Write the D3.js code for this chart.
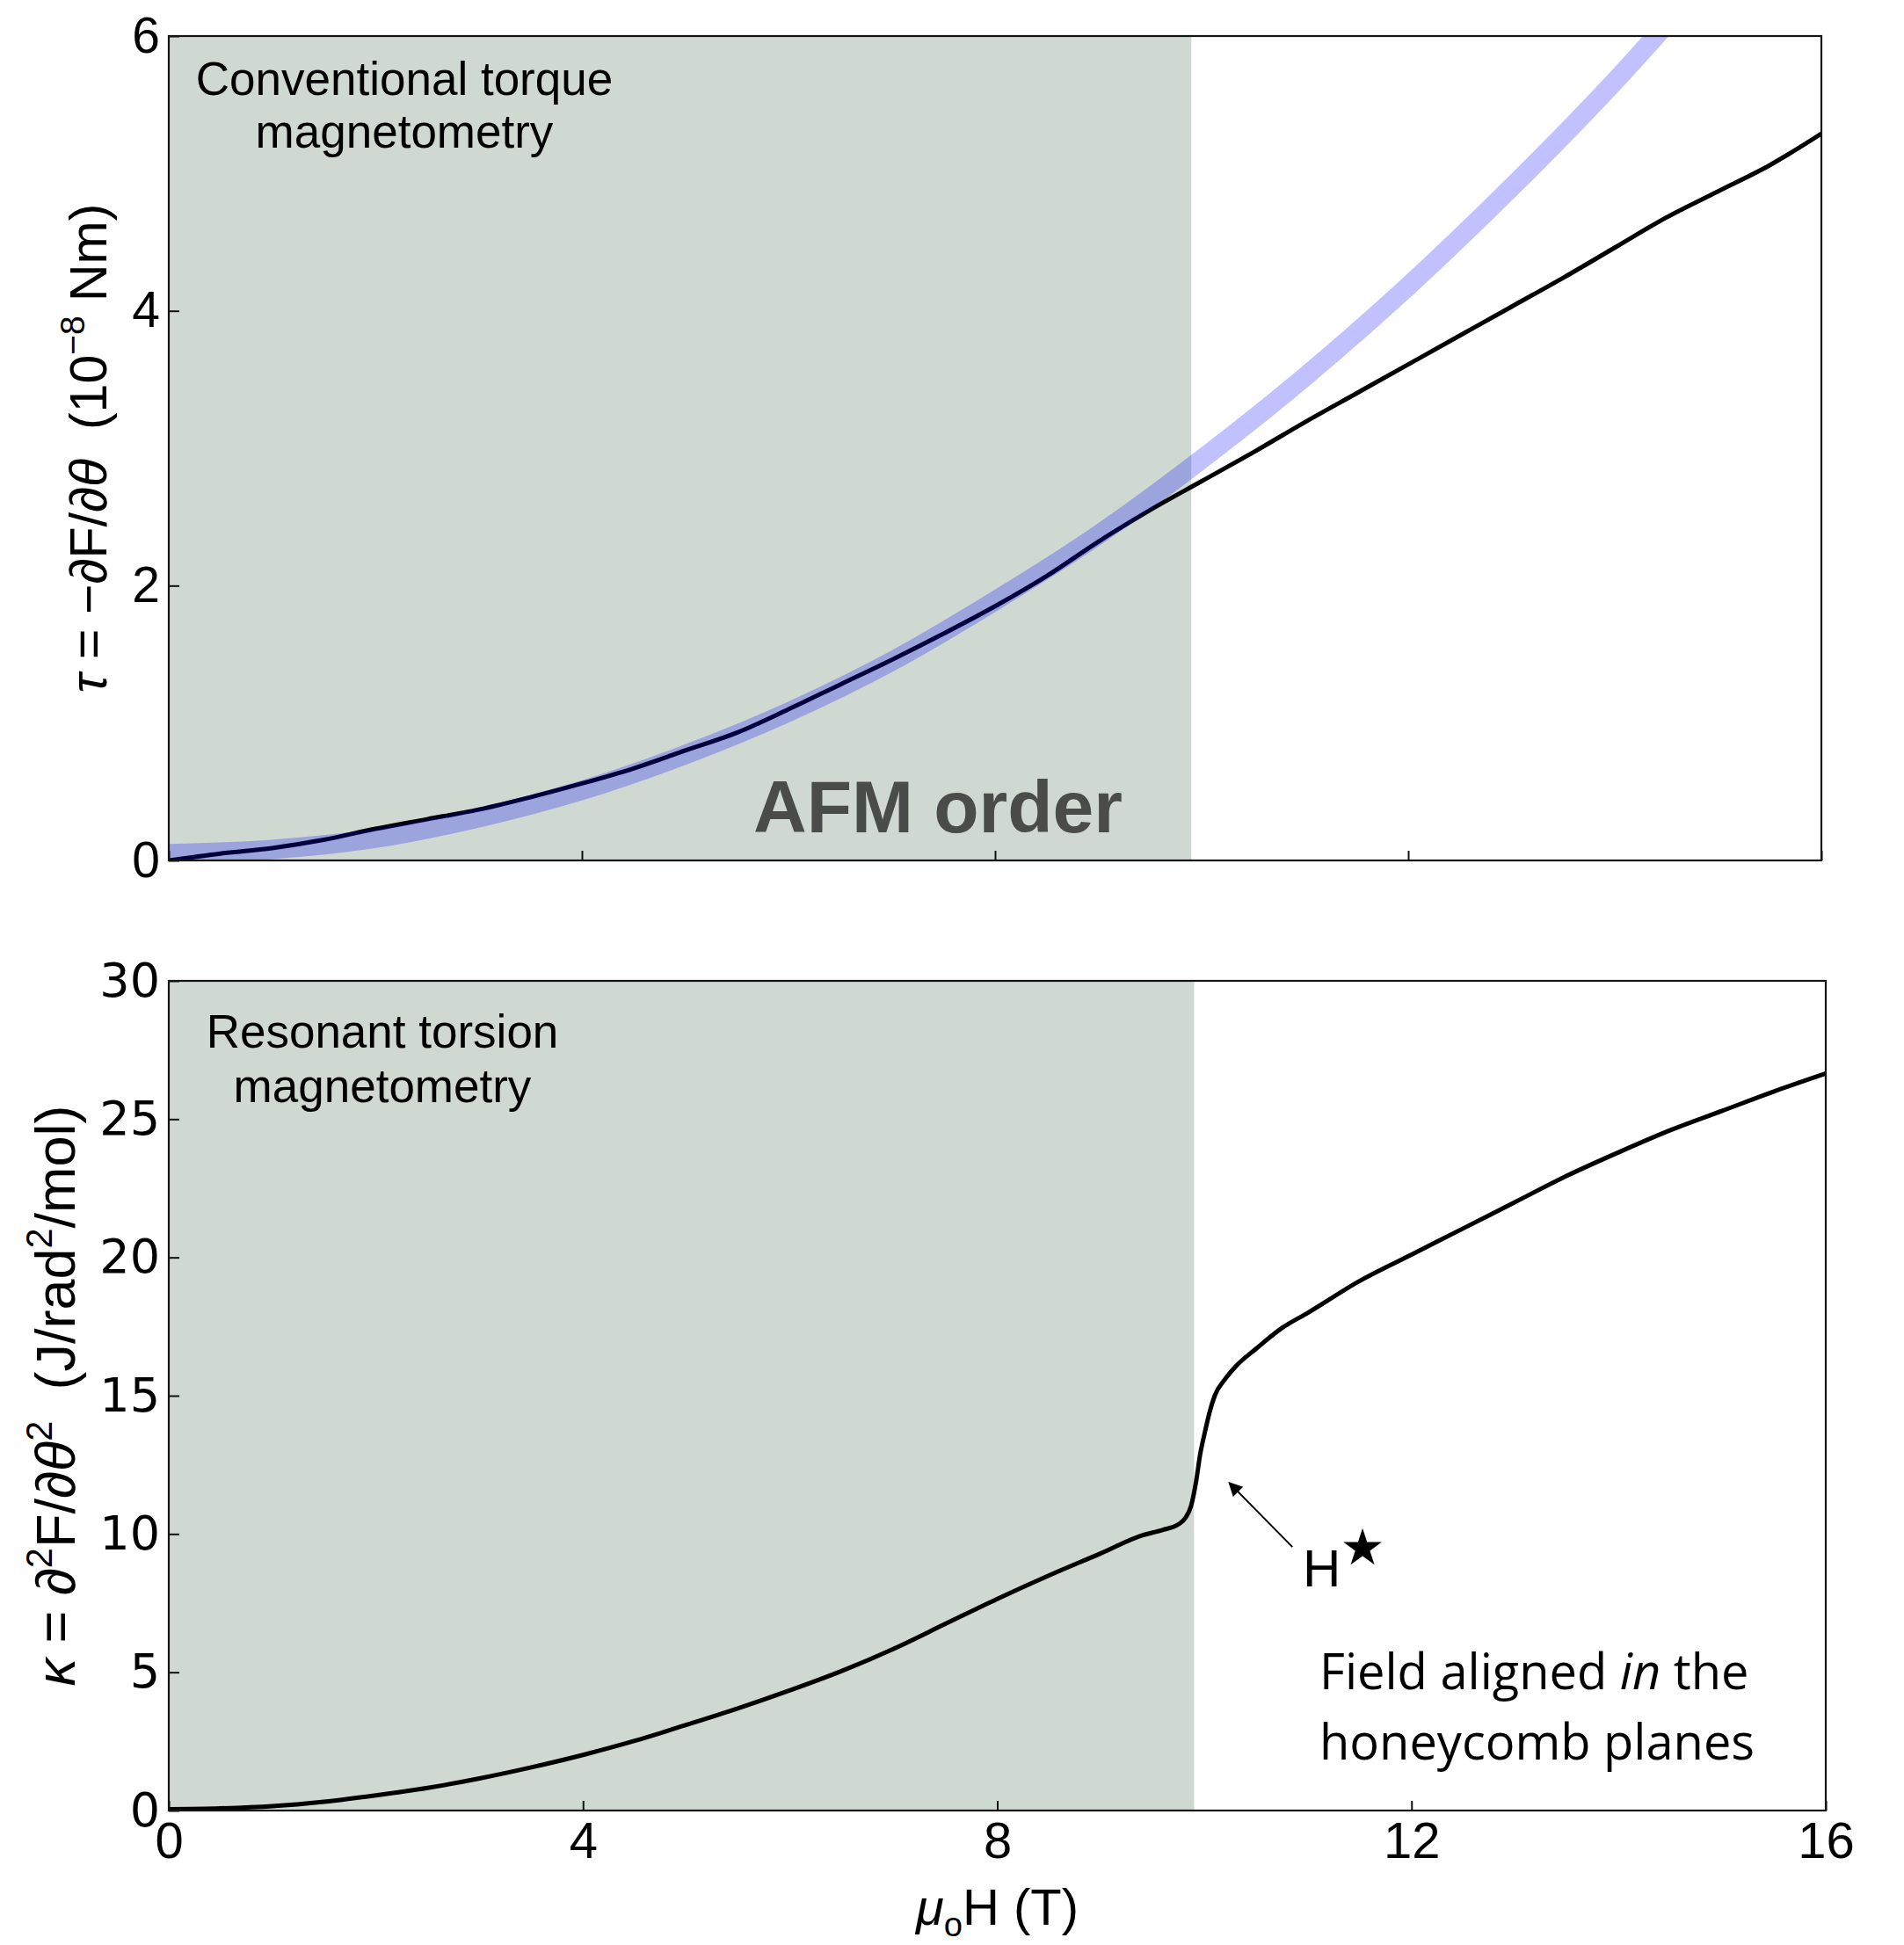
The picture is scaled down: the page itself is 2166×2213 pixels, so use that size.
<!DOCTYPE html>
<html>
<head>
<meta charset="utf-8">
<script src="https://cdn.jsdelivr.net/npm/d3@7"></script>
<style>
  body { margin: 0; background: #fff; }
  text { white-space: pre; }
</style>
</head>
<body>
<svg id="chart" width="2166" height="2213"></svg>
<script>
// ---- data ----
// Torque tau (10^-8 Nm) vs applied field (T)
const fieldTorque = [0, 0.5, 1, 1.5, 2, 2.5, 3, 3.5, 4, 4.5, 5, 5.5, 6, 6.5, 7, 7.5, 8, 8.5, 9, 9.5, 10, 10.5, 11, 11.5, 12, 12.5, 13, 13.5, 14, 14.5, 15, 15.5, 16];
const torque = [0.00, 0.05, 0.09, 0.15, 0.23, 0.30, 0.37, 0.46, 0.56, 0.67, 0.80, 0.93, 1.10, 1.28, 1.46, 1.65, 1.85, 2.07, 2.32, 2.55, 2.76, 2.97, 3.19, 3.40, 3.61, 3.82, 4.03, 4.24, 4.46, 4.68, 4.87, 5.06, 5.29];

// Low-field H^2 trend drawn as a wide translucent band
const fieldFit = [0, 1, 2, 3, 4, 5, 6, 7, 8, 9, 10, 11, 12, 13, 14, 14.6];
const torqueFit = [0.05, 0.08, 0.16, 0.31, 0.51, 0.77, 1.08, 1.45, 1.89, 2.37, 2.92, 3.52, 4.18, 4.90, 5.67, 6.17];

// Magnetotropic coefficient kappa (J/rad^2/mol) vs field (T)
const fieldKappa = [0, 0.5, 1, 1.5, 2, 2.5, 3, 3.5, 4, 4.5, 5, 5.5, 6, 6.5, 7, 7.5, 8, 8.5, 9, 9.4, 9.6, 9.75, 9.82, 9.87, 9.92, 9.96, 10.0, 10.05, 10.1, 10.2, 10.3, 10.5, 10.75, 11, 11.5, 12, 12.5, 13, 13.5, 14, 14.5, 15, 15.5, 16];
const kappa = [0.05, 0.08, 0.16, 0.32, 0.55, 0.82, 1.16, 1.56, 2.01, 2.52, 3.10, 3.70, 4.35, 5.05, 5.85, 6.75, 7.65, 8.50, 9.30, 9.95, 10.15, 10.35, 10.6, 11.0, 11.9, 12.9, 13.6, 14.4, 15.0, 15.6, 16.05, 16.7, 17.45, 18.0, 19.15, 20.1, 21.05, 22.0, 22.95, 23.8, 24.6, 25.3, 26.0, 26.65];

const fieldTicks = [0, 4, 8, 12, 16];
const torqueTicks = [0, 2, 4, 6];
const kappaTicks = [0, 5, 10, 15, 20, 25, 30];
const afmRange = [0, 9.9];     // antiferromagnetic ordered region (T)
const hStar = { tip: [10.24, 11.85], tail: [10.85, 9.53], label: [10.95, 8.1] };

// ---- layout ----
const svg = d3.select("#chart");
const HELV = "'Liberation Sans', Arial, Helvetica, sans-serif";
const SHADE = "#cfd9d2";

const xTop = d3.scaleLinear().domain([0, 16]).range([192, 2072]);
const yTop = d3.scaleLinear().domain([0, 6]).range([979, 41]);
const xBot = d3.scaleLinear().domain([0, 16]).range([192, 2077]);
const yBot = d3.scaleLinear().domain([0, 30]).range([2060, 1116]);

function richText(sel, parts, fs) {
  let shift = 0;
  parts.forEach(p => {
    const ts = sel.append("tspan").text(p.t);
    if (p.it) ts.attr("font-style", "italic");
    let target = 0;
    if (p.sup) { target = -0.42 * fs; ts.attr("font-size", 0.66 * fs); }
    if (p.sub) { target = 0.22 * fs; ts.attr("font-size", 0.66 * fs); }
    if (target - shift !== 0) ts.attr("dy", target - shift);
    shift = target;
  });
}

function panel(x, y, id) {
  const [x0, x1] = x.range();
  const [y0, y1] = y.range();
  const g = svg.append("g");
  g.append("clipPath").attr("id", id).append("rect")
    .attr("x", x0).attr("y", y1).attr("width", x1 - x0).attr("height", y0 - y1);
  // AFM shading
  g.append("rect")
    .attr("x", x(afmRange[0])).attr("width", x(afmRange[1]) - x(afmRange[0]))
    .attr("y", y1).attr("height", y0 - y1)
    .attr("fill", SHADE);
  return g;
}

function frame(g, x, y, yTicks, yFont, yFs, showXLabels) {
  const [x0, x1] = x.range();
  const [y0, y1] = y.range();
  const ax = g.append("g").attr("transform", `translate(${x0},0)`)
    .call(d3.axisLeft(y).tickValues(yTicks).tickFormat(d3.format("d"))
      .tickSizeInner(-12).tickSizeOuter(0).tickPadding(10));
  ax.select(".domain").remove();
  ax.selectAll(".tick line").attr("stroke", "#111").attr("stroke-width", 2);
  ax.selectAll(".tick text").attr("font-family", yFont).attr("font-size", yFs).attr("fill", "#000");

  const bx = g.append("g").attr("transform", `translate(0,${y0})`)
    .call(d3.axisBottom(x).tickValues(fieldTicks).tickSizeInner(-11).tickSizeOuter(0).tickPadding(13)
      .tickFormat(showXLabels ? d3.format("d") : () => ""));
  bx.select(".domain").remove();
  bx.selectAll(".tick line").attr("stroke", "#111").attr("stroke-width", 2);
  bx.selectAll(".tick text").attr("font-family", HELV).attr("font-size", 58).attr("fill", "#000");

  g.append("rect").attr("x", x0).attr("y", y1).attr("width", x1 - x0).attr("height", y0 - y1)
    .attr("fill", "none").attr("stroke", "#151515").attr("stroke-width", 2.2);
}

// ---- top panel: torque ----
const gTop = panel(xTop, yTop, "clipTop");
const lineTop = d3.line().x(d => xTop(d[0])).y(d => yTop(d[1])).curve(d3.curveMonotoneX);

gTop.append("path")
  .datum(d3.zip(fieldTorque, torque))
  .attr("d", lineTop).attr("clip-path", "url(#clipTop)")
  .attr("fill", "none").attr("stroke", "#000").attr("stroke-width", 5).attr("stroke-linejoin", "round");

gTop.append("path")
  .datum(d3.zip(fieldFit, torqueFit))
  .attr("d", lineTop).attr("clip-path", "url(#clipTop)")
  .attr("fill", "none").attr("stroke", "rgba(0,0,255,0.245)").attr("stroke-width", 22);

gTop.append("text").attr("font-family", HELV).attr("font-size", 53).attr("text-anchor", "middle")
  .selectAll("tspan").data(["Conventional torque", "magnetometry"]).join("tspan")
  .attr("x", 460).attr("y", (d, i) => 108 + i * 60).text(d => d);

gTop.append("text").attr("font-family", HELV).attr("font-size", 84).attr("font-weight", "bold")
  .attr("fill", "#4a4c49").attr("x", 857).attr("y", 947).text("AFM order");

frame(gTop, xTop, yTop, torqueTicks, HELV, 57, false);

const tTitle = svg.append("text").attr("font-family", HELV).attr("font-size", 59)
  .attr("text-anchor", "middle").attr("transform", "translate(121,510) rotate(-90)");
richText(tTitle, [
  { t: "τ", it: true }, { t: " = −∂F/∂" }, { t: "θ", it: true },
  { t: "  (10" }, { t: "−8", sup: true }, { t: " Nm)" }
], 59);

// ---- bottom panel: kappa ----
const gBot = panel(xBot, yBot, "clipBot");
const lineBot = d3.line().x(d => xBot(d[0])).y(d => yBot(d[1])).curve(d3.curveMonotoneX);

gBot.append("path")
  .datum(d3.zip(fieldKappa, kappa))
  .attr("d", lineBot).attr("clip-path", "url(#clipBot)")
  .attr("fill", "none").attr("stroke", "#000").attr("stroke-width", 5).attr("stroke-linejoin", "round");

gBot.append("text").attr("font-family", HELV).attr("font-size", 53).attr("text-anchor", "middle")
  .selectAll("tspan").data(["Resonant torsion", "magnetometry"]).join("tspan")
  .attr("x", 435).attr("y", (d, i) => 1192 + i * 62).text(d => d);

const field = gBot.append("text").attr("font-family", "'Open Sans', sans-serif").attr("font-size", 56);
const l1 = field.append("tspan").attr("x", 1501).attr("y", 1922);
l1.append("tspan").text("Field aligned ");
l1.append("tspan").attr("font-style", "italic").text("in");
l1.append("tspan").text(" the");
field.append("tspan").attr("x", 1501).attr("y", 2002).text("honeycomb planes");

// H* annotation
const defs = svg.append("defs");
defs.append("marker").attr("id", "arrowHead").attr("viewBox", "0 0 10 10")
  .attr("refX", 9).attr("refY", 5).attr("markerWidth", 9).attr("markerHeight", 8)
  .attr("markerUnits", "strokeWidth").attr("orient", "auto")
  .append("path").attr("d", "M0,0 L10,5 L0,10 Z").attr("fill", "#000");
gBot.append("line")
  .attr("x1", xBot(hStar.tail[0])).attr("y1", yBot(hStar.tail[1]))
  .attr("x2", xBot(hStar.tip[0])).attr("y2", yBot(hStar.tip[1]))
  .attr("stroke", "#000").attr("stroke-width", 2).attr("marker-end", "url(#arrowHead)");
const hs = gBot.append("text").attr("font-family", HELV).attr("font-size", 60)
  .attr("x", xBot(hStar.label[0])).attr("y", yBot(hStar.label[1]));
hs.append("tspan").text("H");
hs.append("tspan").attr("font-family", "'DejaVu Sans', sans-serif").attr("font-size", 57)
  .attr("dx", -1).attr("dy", -25).text("★");

frame(gBot, xBot, yBot, kappaTicks, "'DejaVu Sans', sans-serif", 54, true);

const kTitle = svg.append("text").attr("font-family", HELV).attr("font-size", 63)
  .attr("text-anchor", "middle").attr("transform", "translate(85,1588) rotate(-90)");
richText(kTitle, [
  { t: "κ", it: true }, { t: " = ∂" }, { t: "2", sup: true }, { t: "F/∂" }, { t: "θ", it: true },
  { t: "2", sup: true }, { t: "  (J/rad" }, { t: "2", sup: true }, { t: "/mol)" }
], 63);

const xTitle = svg.append("text").attr("font-family", HELV).attr("font-size", 58)
  .attr("text-anchor", "middle").attr("x", xBot(8)).attr("y", 2190);
richText(xTitle, [{ t: "μ", it: true }, { t: "o", sub: true }, { t: "H (T)" }], 58);
</script>
</body>
</html>
